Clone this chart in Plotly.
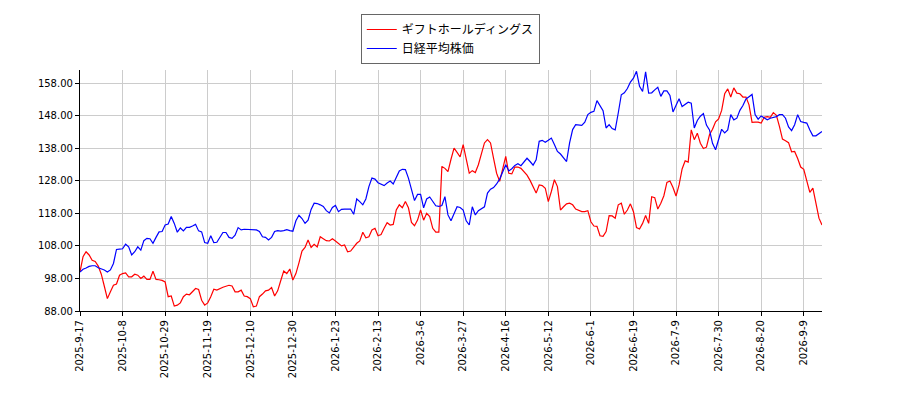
import plotly.graph_objects as go

# trading-day tick labels (one every 14 sessions)
tick_labels = ["2025-9-17", "2025-10-8", "2025-10-29", "2025-11-19", "2025-12-10",
               "2025-12-30", "2026-1-23", "2026-2-13", "2026-3-6", "2026-3-27",
               "2026-4-16", "2026-5-12", "2026-6-1", "2026-6-19", "2026-7-9",
               "2026-7-30", "2026-8-20", "2026-9-9"]
tick_step = 14

gift = [
    100.0, 104.7, 106.2, 105.2, 103.6, 103.2, 101.8, 99.3, 95.6, 91.8,
    93.9, 95.9, 96.3, 99.0, 99.5, 99.7, 98.5, 98.5, 99.3, 99.0,
    98.0, 98.7, 97.7, 97.7, 100.2, 97.7, 97.6, 97.4, 96.9, 92.4,
    92.6, 89.5, 89.8, 90.5, 92.4, 93.2, 93.0, 93.8, 94.9, 94.6,
    91.3, 89.8, 90.5, 92.4, 94.7, 94.4, 94.9, 95.3, 95.6, 95.9,
    95.7, 93.9, 93.9, 94.4, 92.6, 92.4, 91.8, 89.3, 89.5, 92.4,
    93.2, 94.2, 94.4, 95.2, 92.6, 94.2, 97.3, 100.3, 99.5, 100.9,
    97.5, 99.5, 102.8, 106.4, 107.5, 109.8, 107.5, 108.5, 107.7, 110.8,
    110.2, 109.6, 109.5, 110.2, 109.5, 108.8, 108.0, 108.3, 106.2, 106.4,
    107.5, 108.8, 109.5, 112.2, 110.5, 110.8, 112.9, 113.4, 111.1, 111.5,
    113.4, 115.1, 114.4, 114.6, 119.0, 120.6, 119.7, 121.6, 119.7, 115.2,
    114.2, 115.9, 119.0, 115.9, 118.0, 117.0, 113.4, 112.2, 112.2, 132.4,
    131.8, 130.8, 134.6, 138.0, 136.7, 135.3, 139.1, 135.0, 130.3, 131.1,
    130.5, 132.9, 136.0, 139.6, 140.6, 139.6, 134.9, 130.3, 127.8, 131.6,
    135.5, 130.3, 130.1, 132.2, 132.2, 131.8, 130.8, 129.7, 128.1, 126.0,
    124.2, 126.7, 126.5, 125.7, 121.6, 124.7, 128.3, 126.2, 119.0, 120.0,
    120.9, 121.1, 120.6, 119.3, 119.0, 118.5, 118.5, 118.8, 115.4, 114.1,
    114.0, 111.1, 110.9, 112.4, 117.3, 117.2, 116.5, 120.6, 121.1, 117.7,
    119.0, 120.9, 118.5, 113.6, 113.2, 114.9, 117.3, 114.9, 123.1, 122.8,
    119.3, 121.1, 123.4, 127.5, 127.9, 125.9, 123.3, 126.7, 131.6, 134.1,
    133.7, 143.6, 140.6, 142.6, 139.5, 137.9, 138.3, 142.1, 143.8, 146.1,
    147.0, 149.6, 154.7, 156.2, 153.7, 156.5, 154.9, 154.7, 153.7, 153.7,
    151.3, 145.9, 146.0, 146.0, 145.7, 147.5, 147.7, 147.5, 148.9, 148.1,
    144.7, 140.8, 140.3, 139.7, 136.9, 137.0, 134.8, 132.2, 131.5, 128.1,
    124.4, 125.7, 121.6, 116.5, 114.4,
]

nikkei = [
    100.0, 100.8, 101.2, 101.7, 101.9, 101.9, 101.3, 101.0, 100.6, 100.0,
    100.6, 102.6, 106.9, 107.0, 107.1, 108.5, 107.7, 105.2, 106.2, 107.7,
    106.7, 109.6, 110.3, 110.2, 108.8, 110.6, 112.3, 112.4, 114.4, 114.7,
    117.0, 114.9, 112.2, 113.5, 112.6, 113.7, 113.7, 114.1, 114.6, 112.6,
    112.3, 109.0, 108.8, 111.1, 109.0, 109.1, 110.8, 112.1, 112.1, 110.6,
    110.3, 111.3, 113.6, 112.9, 113.1, 113.1, 113.1, 112.9, 112.9, 112.4,
    110.8, 110.6, 109.8, 110.6, 112.4, 112.7, 112.5, 112.7, 113.0, 112.7,
    112.5, 115.7, 117.4, 116.4, 114.9, 115.9, 119.2, 121.1, 121.0, 120.6,
    120.1, 118.8, 118.1, 119.8, 120.4, 118.5, 119.2, 119.3, 119.3, 119.3,
    117.7, 122.4, 121.6, 120.6, 122.4, 126.2, 128.8, 128.5, 127.4, 127.0,
    126.5, 127.3, 127.9, 127.0, 129.3, 131.0, 131.5, 131.4, 128.8, 125.5,
    121.9, 123.8, 123.8, 119.7, 122.4, 123.0, 121.6, 120.3, 120.1, 120.4,
    123.1, 117.5, 115.7, 117.7, 120.0, 119.8, 119.0, 115.7, 114.4, 120.0,
    117.5, 118.8, 119.3, 120.0, 124.2, 125.4, 125.9, 127.0, 128.5, 130.8,
    132.9, 131.0, 131.7, 132.7, 133.2, 132.6, 133.6, 134.9, 133.9, 132.8,
    134.4, 140.1, 140.4, 139.8, 140.4, 141.1, 139.1, 137.0, 136.2, 135.2,
    133.9, 139.6, 143.7, 145.2, 145.2, 145.0, 146.0, 148.3, 149.0, 149.3,
    152.6, 151.1, 149.5, 144.2, 145.2, 144.0, 143.6, 148.8, 154.4, 155.0,
    156.3, 158.3, 159.5, 161.6, 157.0, 155.4, 161.4, 154.9, 155.0, 155.9,
    156.7, 153.9, 155.6, 155.6, 154.2, 149.1, 151.1, 153.2, 150.8, 151.5,
    152.1, 151.8, 144.2, 146.5, 147.8, 148.6, 145.1, 143.6, 139.5, 137.5,
    140.6, 143.8, 142.7, 143.6, 148.3, 146.7, 147.2, 149.6, 151.1, 153.1,
    153.8, 154.5, 148.3, 146.9, 147.9, 147.4, 146.7, 147.2, 147.5, 147.7,
    148.3, 148.3, 147.2, 144.5, 143.4, 145.2, 148.3, 146.2, 145.9, 145.7,
    143.6, 141.8, 141.8, 142.6, 143.1,
]

y_ticks = [88, 98, 108, 118, 128, 138, 148, 158]

days = list(range(len(gift)))

fig = go.Figure()
fig.add_trace(go.Scatter(x=days, y=gift, mode="lines", name="ギフトホールディングス",
                         line=dict(color="#ff0000", width=1.2)))
fig.add_trace(go.Scatter(x=days, y=nikkei, mode="lines", name="日経平均株価",
                         line=dict(color="#0000ff", width=1.2)))

fig.update_xaxes(
    range=[0, len(gift) - 1],
    tickvals=[i * tick_step for i in range(len(tick_labels))],
    ticktext=tick_labels,
    tickangle=-90,
    showgrid=True, gridcolor="#cccccc", gridwidth=1,
    showline=True, linecolor="black", linewidth=1.2,
    ticks="outside", ticklen=4, tickcolor="black",
    zeroline=False,
    tickfont=dict(family="DejaVu Sans", size=10, color="black"),
)
fig.update_yaxes(
    range=[88, 162],
    tickvals=y_ticks,
    tickformat=".2f",
    showgrid=True, gridcolor="#cccccc", gridwidth=1,
    showline=True, linecolor="black", linewidth=1.2,
    ticks="outside", ticklen=4, tickcolor="black",
    zeroline=False,
    tickfont=dict(family="DejaVu Sans", size=10, color="black"),
)

# the page body has an 8px margin, so the margins are shifted to compensate
fig.update_layout(
    width=900, height=400,
    margin=dict(l=72, r=86, t=62, b=97, autoexpand=False),
    plot_bgcolor="white", paper_bgcolor="white",
    showlegend=True,
    legend=dict(
        x=0.499, xanchor="center",
        yref="container", y=0.985, yanchor="top",
        bgcolor="white", bordercolor="#666666", borderwidth=1,
        font=dict(family="Noto Sans CJK JP", size=12, color="black"),
        itemwidth=30, tracegroupgap=0,
    ),
)

fig.write_html("out.html")
